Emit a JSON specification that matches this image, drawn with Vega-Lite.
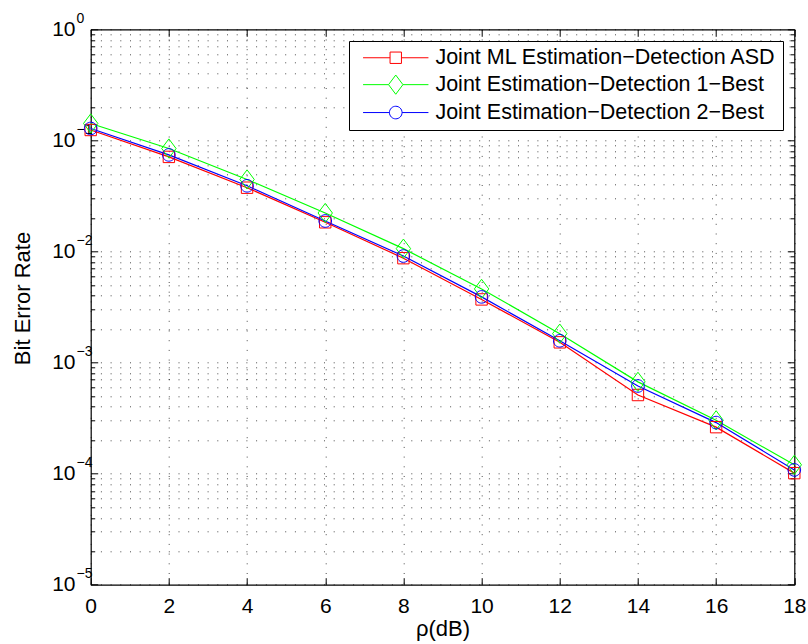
{
  "$schema": "https://vega.github.io/schema/vega-lite/v6.json",
  "width": 703.6,
  "height": 555.4,
  "autosize": {"type": "none"},
  "padding": {"left": 90.7, "top": 29.3, "right": 13.7, "bottom": 59.3},
  "background": "white",
  "config": {
    "view": {"stroke": null},
    "font": "Liberation Sans",
    "axis": {"labelFont": "Liberation Sans", "titleFont": "Liberation Sans", "labelColor": "black", "titleColor": "black", "tickColor": "black", "domainColor": "black", "domainWidth": 1.2, "tickWidth": 1, "titleFontWeight": "normal"},
    "legend": {"labelFont": "Liberation Sans"}
  },
  "data": {
    "values": [
      {"snr": 0, "ber": 0.124, "series": "Joint ML Estimation−Detection ASD"},
      {"snr": 2, "ber": 0.071, "series": "Joint ML Estimation−Detection ASD"},
      {"snr": 4, "ber": 0.0375, "series": "Joint ML Estimation−Detection ASD"},
      {"snr": 6, "ber": 0.0183, "series": "Joint ML Estimation−Detection ASD"},
      {"snr": 8, "ber": 0.0087, "series": "Joint ML Estimation−Detection ASD"},
      {"snr": 10, "ber": 0.0037, "series": "Joint ML Estimation−Detection ASD"},
      {"snr": 12, "ber": 0.00152, "series": "Joint ML Estimation−Detection ASD"},
      {"snr": 14, "ber": 0.00051, "series": "Joint ML Estimation−Detection ASD"},
      {"snr": 16, "ber": 0.000262, "series": "Joint ML Estimation−Detection ASD"},
      {"snr": 18, "ber": 0.000101, "series": "Joint ML Estimation−Detection ASD"},
      {"snr": 0, "ber": 0.142, "series": "Joint Estimation−Detection 1−Best"},
      {"snr": 2, "ber": 0.0845, "series": "Joint Estimation−Detection 1−Best"},
      {"snr": 4, "ber": 0.0445, "series": "Joint Estimation−Detection 1−Best"},
      {"snr": 6, "ber": 0.0222, "series": "Joint Estimation−Detection 1−Best"},
      {"snr": 8, "ber": 0.0106, "series": "Joint Estimation−Detection 1−Best"},
      {"snr": 10, "ber": 0.0046, "series": "Joint Estimation−Detection 1−Best"},
      {"snr": 12, "ber": 0.00182, "series": "Joint Estimation−Detection 1−Best"},
      {"snr": 14, "ber": 0.00067, "series": "Joint Estimation−Detection 1−Best"},
      {"snr": 16, "ber": 0.000302, "series": "Joint Estimation−Detection 1−Best"},
      {"snr": 18, "ber": 0.00012, "series": "Joint Estimation−Detection 1−Best"},
      {"snr": 0, "ber": 0.128, "series": "Joint Estimation−Detection 2−Best"},
      {"snr": 2, "ber": 0.074, "series": "Joint Estimation−Detection 2−Best"},
      {"snr": 4, "ber": 0.039, "series": "Joint Estimation−Detection 2−Best"},
      {"snr": 6, "ber": 0.0188, "series": "Joint Estimation−Detection 2−Best"},
      {"snr": 8, "ber": 0.0091, "series": "Joint Estimation−Detection 2−Best"},
      {"snr": 10, "ber": 0.0039, "series": "Joint Estimation−Detection 2−Best"},
      {"snr": 12, "ber": 0.00157, "series": "Joint Estimation−Detection 2−Best"},
      {"snr": 14, "ber": 0.000615, "series": "Joint Estimation−Detection 2−Best"},
      {"snr": 16, "ber": 0.000288, "series": "Joint Estimation−Detection 2−Best"},
      {"snr": 18, "ber": 0.000108, "series": "Joint Estimation−Detection 2−Best"}
    ]
  },
  "layer": [
    {
      "mark": {"type": "line", "strokeWidth": 1.2},
      "encoding": {
        "x": {"field": "snr", "type": "quantitative", "scale": {"domain": [0, 18], "nice": false, "zero": false},
          "axis": {"orient": "bottom", "values": [0, 2, 4, 6, 8, 10, 12, 14, 16, 18], "tickSize": -7, "labelFontSize": 21, "labelPadding": 17.5, "labelFlush": false, "labelOverlap": false,
            "title": "ρ(dB)", "titleFontSize": 22, "titleBaseline": "alphabetic", "titleY": 50.3,
            "grid": true, "gridDash": [1, 8.7], "gridColor": "#000000", "gridOpacity": 0.7, "gridWidth": 1}},
        "y": {"field": "ber", "type": "quantitative", "scale": {"type": "log", "domain": [0.00001, 1], "nice": false},
          "axis": {"orient": "left",
            "values": [0.00001, 0.00002, 0.00003, 0.00004, 0.00005, 0.00006, 0.00007, 0.00008, 0.00009, 0.0001, 0.0002, 0.0003, 0.0004, 0.0005, 0.0006, 0.0007, 0.0008, 0.0009, 0.001, 0.002, 0.003, 0.004, 0.005, 0.006, 0.007, 0.008, 0.009, 0.01, 0.02, 0.03, 0.04, 0.05, 0.06, 0.07, 0.08, 0.09, 0.1, 0.2, 0.3, 0.4, 0.5, 0.6, 0.7, 0.8, 0.9, 1],
            "labelExpr": "indexof([1, 0.1, 0.01, 0.001, 0.0001, 0.00001], datum.value) >= 0 ? '10' : ''",
            "tickSize": {"condition": {"test": "indexof([1, 0.1, 0.01, 0.001, 0.0001, 0.00001], datum.value) >= 0", "value": -7}, "value": -4},
            "labelFontSize": 21, "labelPadding": 22.7, "labelOverlap": false, "labelFlush": false, "labelBaseline": "middle",
            "title": "Bit Error Rate", "titleFontSize": 22, "titleX": -56, "titleY": 268.7,
            "grid": true, "gridDash": [1, 8.7], "gridColor": "#000000", "gridOpacity": 0.7, "gridWidth": 1}},
        "color": {"field": "series", "type": "nominal",
          "scale": {"domain": ["Joint ML Estimation−Detection ASD", "Joint Estimation−Detection 1−Best", "Joint Estimation−Detection 2−Best"], "range": ["#ff0000", "#00ff00", "#0000ff"]}}
      }
    },
    {
      "transform": [{"filter": "datum.series === 'Joint ML Estimation−Detection ASD'"}],
      "mark": {"type": "point", "shape": "M-0.95,-0.95H0.95V0.95H-0.95Z", "size": 144, "filled": false, "strokeWidth": 1, "opacity": 1},
      "encoding": {
        "x": {"field": "snr", "type": "quantitative", "axis": null},
        "y": {"field": "ber", "type": "quantitative",
          "axis": {"orient": "left", "values": [0.00001, 0.0001, 0.001, 0.01, 0.1, 1],
            "labelExpr": "datum.value == 1 ? '0' : datum.value == 0.1 ? '−1' : datum.value == 0.01 ? '−2' : datum.value == 0.001 ? '−3' : datum.value == 0.0001 ? '−4' : '−5'",
            "ticks": false, "tickSize": 0, "domain": false, "grid": false, "title": null,
            "labelAlign": "left", "labelBaseline": "middle", "labelPadding": 14.7, "labelOffset": -11, "labelFontSize": 14, "labelOverlap": false, "labelFlush": false}},
        "color": {"field": "series", "type": "nominal"}
      }
    },
    {
      "transform": [{"filter": "datum.series === 'Joint Estimation−Detection 1−Best'"}],
      "mark": {"type": "point", "shape": "M0,-1.6L1.2,0L0,1.6L-1.2,0Z", "size": 144, "filled": false, "strokeWidth": 1, "opacity": 1},
      "encoding": {
        "x": {"field": "snr", "type": "quantitative", "axis": null},
        "y": {"field": "ber", "type": "quantitative", "axis": null},
        "color": {"field": "series", "type": "nominal"}
      }
    },
    {
      "transform": [{"filter": "datum.series === 'Joint Estimation−Detection 2−Best'"}],
      "mark": {"type": "point", "shape": "M-1.05,0A1.05,1.05 0 1,0 1.05,0A1.05,1.05 0 1,0 -1.05,0Z", "size": 144, "filled": false, "strokeWidth": 1, "opacity": 1},
      "encoding": {
        "x": {"field": "snr", "type": "quantitative", "axis": null},
        "y": {"field": "ber", "type": "quantitative", "axis": null},
        "color": {"field": "series", "type": "nominal"}
      }
    },
    {
      "transform": [{"filter": "false"}],
      "mark": {"type": "point", "size": 144, "filled": false, "strokeWidth": 1, "opacity": 1},
      "encoding": {
        "x": {"field": "snr", "type": "quantitative",
          "axis": {"orient": "top", "values": [0, 2, 4, 6, 8, 10, 12, 14, 16, 18], "labels": false, "title": null, "grid": false, "tickSize": -7}},
        "y": {"field": "ber", "type": "quantitative",
          "axis": {"orient": "right",
            "values": [0.00001, 0.00002, 0.00003, 0.00004, 0.00005, 0.00006, 0.00007, 0.00008, 0.00009, 0.0001, 0.0002, 0.0003, 0.0004, 0.0005, 0.0006, 0.0007, 0.0008, 0.0009, 0.001, 0.002, 0.003, 0.004, 0.005, 0.006, 0.007, 0.008, 0.009, 0.01, 0.02, 0.03, 0.04, 0.05, 0.06, 0.07, 0.08, 0.09, 0.1, 0.2, 0.3, 0.4, 0.5, 0.6, 0.7, 0.8, 0.9, 1],
            "labels": false, "title": null, "grid": false,
            "tickSize": {"condition": {"test": "indexof([1, 0.1, 0.01, 0.001, 0.0001, 0.00001], datum.value) >= 0", "value": -7}, "value": -4}}},
        "color": {"field": "series", "type": "nominal",
          "legend": {"title": null, "orient": "none", "legendX": 258.3, "legendY": 11.7, "direction": "vertical",
            "labelFontSize": 21.5, "labelColor": "black", "labelLimit": 600, "symbolSize": 144, "symbolStrokeWidth": 1, "symbolOpacity": 1,
            "symbolOffset": 30, "labelOffset": 28.9, "padding": 6, "rowPadding": 3.9, "strokeColor": "black", "fillColor": "white"}},
        "shape": {"field": "series", "type": "nominal",
          "scale": {"domain": ["Joint ML Estimation−Detection ASD", "Joint Estimation−Detection 1−Best", "Joint Estimation−Detection 2−Best"],
            "range": ["M-5.45,0H-0.95M0.95,0H5.45M-0.95,-0.95H0.95V0.95H-0.95Z", "M-5.45,0H-1.2M1.2,0H5.45M0,-1.6L1.2,0L0,1.6L-1.2,0Z", "M-5.45,0H-1.05M1.05,0H5.45M-1.05,0A1.05,1.05 0 1,0 1.05,0A1.05,1.05 0 1,0 -1.05,0Z"]},
          "legend": {"title": null, "orient": "none", "legendX": 258.3, "legendY": 11.7, "direction": "vertical",
            "labelFontSize": 21.5, "labelColor": "black", "labelLimit": 600, "symbolSize": 144, "symbolStrokeWidth": 1, "symbolOpacity": 1,
            "symbolOffset": 30, "labelOffset": 28.9, "padding": 6, "rowPadding": 3.9, "strokeColor": "black", "fillColor": "white"}}
      }
    }
  ],
  "resolve": {"axis": {"x": "independent", "y": "independent"}}
}
